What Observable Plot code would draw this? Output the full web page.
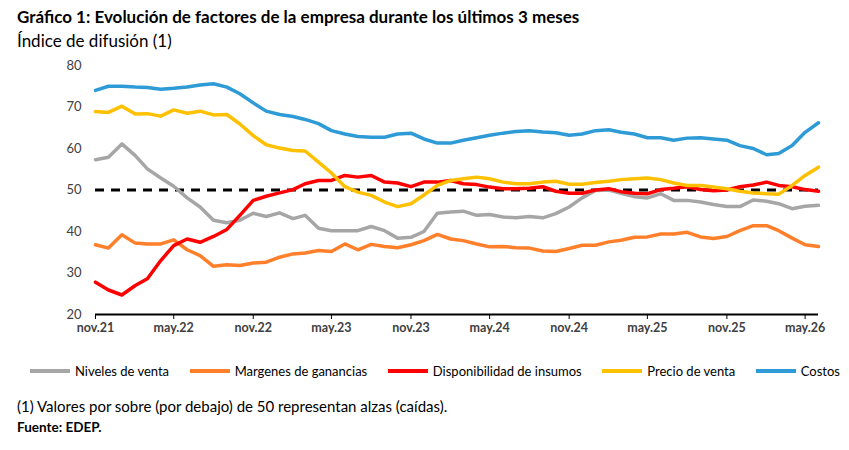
<!DOCTYPE html>
<html><head><meta charset="utf-8">
<script src="https://cdn.jsdelivr.net/npm/d3@7"></script>
<script src="https://cdn.jsdelivr.net/npm/@observablehq/plot@0.6"></script>
<style>
body{margin:0;background:#fff;font-family:Lato,"Open Sans",sans-serif;color:#000;width:849px}
#t{position:absolute;left:17px;top:6px;font-weight:bold;font-size:17px}
#s{position:absolute;left:17px;top:30px;font-size:17px}
#c{position:absolute;left:0;top:52px}
#lg{position:absolute;left:30px;width:810px;top:363px;font-size:13px;display:flex;justify-content:space-between}
#lg span{display:flex;align-items:center}
#lg i{display:inline-block;width:40px;height:4px;margin-right:5px}
#n1{position:absolute;left:17px;top:397px;font-size:15px}
#n2{position:absolute;left:17px;top:419px;font-size:13.5px;font-weight:bold}
</style></head><body>
<div id="t">Gráfico 1: Evolución de factores de la empresa durante los últimos 3 meses</div>
<div id="s">Índice de difusión (1)</div>
<div id="c"></div>
<div id="lg"></div>
<div id="n1">(1) Valores por sobre (por debajo) de 50 representan alzas (caídas).</div>
<div id="n2">Fuente: EDEP.</div>
<script>
const series = ["Niveles de venta","Margenes de ganancias","Disponibilidad de insumos","Precio de venta","Costos"];
const colors = ["#a6a6a6","#ff7f2a","#ff0000","#ffc000","#2e9bd6"];
const tickLabels = ["nov.21","may.22","nov.22","may.23","nov.23","may.24","nov.24","may.25","nov.25","may.26"];
const niveles = [57.3,57.9,61.1,58.3,55.1,52.9,50.9,48.1,45.9,42.7,42.1,42.7,44.4,43.6,44.5,43.1,43.9,40.8,40.2,40.2,40.2,41.2,40.2,38.4,38.6,40,44.4,44.7,
 44.9,43.9,44.1,43.5,43.3,43.6,43.3,44.3,45.9,48.1,49.9,50,49.2,48.4,48.1,49.1,47.5,47.5,47.1,46.5,46,46,47.6,47.3,46.7,45.5,46.1,46.3];
const margenes = [36.8,36,39.2,37.2,37,37,38,35.6,34.2,31.6,32,31.8,32.4,32.6,33.8,34.6,34.8,35.4,35.2,37,35.6,36.9,36.4,36.1,36.8,37.8,39.3,38.2,
 37.8,37,36.3,36.4,36.1,36,35.3,35.2,35.9,36.7,36.7,37.5,37.9,38.6,38.7,39.4,39.4,39.8,38.7,38.3,38.8,40.2,41.4,41.4,40.2,38.4,36.8,36.4];
const insumos = [27.8,25.9,24.7,27,28.6,33,36.6,38.2,37.4,38.8,40.5,43.9,47.5,48.5,49.3,50.1,51.5,52.3,52.3,53.5,53.1,53.5,51.9,51.7,50.8,51.9,51.9,52.3,
 51.5,51.3,50.7,50.3,50.3,50.4,50.8,49.7,49.2,49.2,50,50.3,49.6,49.2,49.1,50.1,50.4,50.8,50.1,49.8,50,50.8,51.2,51.9,51.1,50.8,50.1,49.7];
const precio = [68.9,68.7,70.2,68.3,68.4,67.8,69.3,68.5,69,68.1,68.2,65.9,63.1,60.9,60.1,59.5,59.4,56.7,54.1,50.8,49.5,48.7,47.1,46,46.7,48.8,51.1,52.3,
 52.7,53.1,52.7,51.9,51.5,51.5,51.9,52.1,51.4,51.4,51.8,52.1,52.5,52.7,52.9,52.5,51.7,51.1,51.1,50.7,50.3,49.7,49.3,49.1,49,51.1,53.5,55.5];
const costos = [74,75,75,74.8,74.7,74.3,74.5,74.8,75.3,75.6,74.8,73.2,71,69,68.2,67.7,67,66,64.3,63.5,62.9,62.7,62.7,63.5,63.7,62.3,61.3,61.3,
 62,62.6,63.2,63.7,64.1,64.3,64,63.8,63.2,63.5,64.3,64.5,63.9,63.5,62.6,62.6,62,62.5,62.6,62.3,62,60.7,60,58.5,58.8,60.7,63.9,66.2];
const all = [niveles,margenes,insumos,precio,costos];
const start = new Date(Date.UTC(2021,10,1));
const rows = [];
all.forEach((arr,k)=>arr.forEach((v,i)=>rows.push({date:d3.utcMonth.offset(start,i),value:v,s:series[k]})));
const ticks = tickLabels.map((_,i)=>d3.utcMonth.offset(start,i*6));
const chart = Plot.plot({
  width:849,height:290,marginTop:13,marginBottom:28,marginLeft:95,marginRight:31,
  style:{fontFamily:"Lato, sans-serif",fontSize:"13px",color:"#000"},
  x:{type:"utc",domain:[start,d3.utcMonth.offset(start,55)]},
  y:{domain:[20,80],ticks:[20,30,40,50,60,70,80]},
  color:{domain:series,range:colors},
  marks:[
    Plot.axisY({ticks:[20,30,40,50,60,70,80],tickSize:0,tickPadding:14,label:null,fill:"#404040",fontSize:13}),
    Plot.axisX({ticks,tickFormat:(d,i)=>tickLabels[i],tickSize:5,label:null,fontSize:12.5,fontWeight:"bold",fill:"#404040"}),
    Plot.ruleY([20],{stroke:"#000",strokeWidth:2}),
    Plot.ruleY([50],{stroke:"#000",strokeWidth:3,strokeDasharray:"9,7"}),
    Plot.line(rows,{x:"date",y:"value",stroke:"s",z:"s",strokeWidth:3.5})
  ]
});
document.getElementById("c").appendChild(chart);
const lg=document.getElementById("lg");
series.forEach((s,k)=>{lg.innerHTML+=`<span><i style="background:${colors[k]}"></i>${s}</span>`;});
</script></body></html>
